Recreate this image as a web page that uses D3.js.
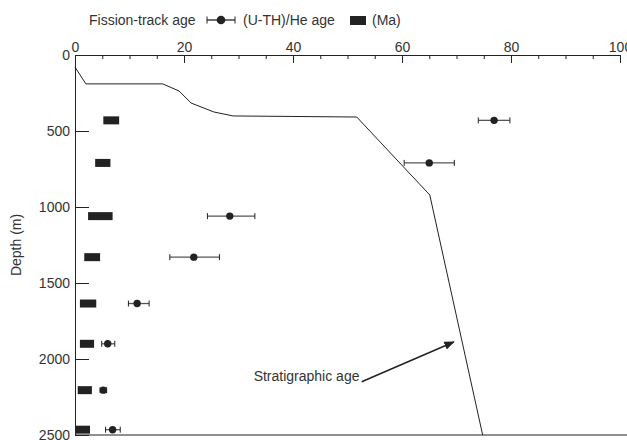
<!DOCTYPE html>
<html>
<head>
<meta charset="utf-8">
<script src="https://cdn.jsdelivr.net/npm/d3@7"></script>
<style>
  body { margin: 0; background: #fff; }
  svg text { font-family: "Liberation Sans", Arial, sans-serif; fill: #333; }
  .axis path, .axis line { stroke: #222; }
  .axis text { font-size: 14px; }
  .lbl { font-size: 14px; }
</style>
</head>
<body>
<svg id="chart" width="627" height="440"></svg>
<script>
// sample depths (m)
const depths = [430, 710, 1060, 1330, 1635, 1900, 2205, 2465];
// fission-track age (Ma) and error bar ends
const ftAge = [76.9, 65.0, 28.4, 21.8, 11.4, 6.0, 5.2, 6.9];
const ftLow = [74.0, 60.4, 24.3, 17.4, 9.8, 4.9, 4.6, 5.6];
const ftHigh = [79.8, 69.6, 33.0, 26.5, 13.6, 7.3, 5.8, 8.3];
// (U-Th)/He age ranges (Ma)
const heMin = [5.2, 3.7, 2.4, 1.7, 0.9, 0.9, 0.5, 0.0];
const heMax = [8.1, 6.5, 6.9, 4.6, 3.9, 3.5, 3.1, 2.75];
// stratigraphic age curve
const stratAge = [0, 2.0, 16.1, 19.1, 21.3, 25.5, 29.0, 51.7, 65.1, 74.8];
const stratDepth = [80, 190, 190, 237, 316, 375, 401, 408, 921, 2500];

const xTicks = [0, 20, 40, 60, 80, 100];
const yTicks = [0, 500, 1000, 1500, 2000, 2500];

let svg = d3.select("#chart");

let x = d3.scaleLinear().domain([0, 100]).range([75, 620]);
let y = d3.scaleLinear().domain([0, 2500]).range([55, 435]);

// top axis, minor then major ticks
svg.append("g")
  .attr("class", "axis")
  .attr("transform", "translate(0,55)")
  .call(d3.axisTop(x)
    .tickValues(d3.range(0, 101, 5).filter(d => d % 20 != 0))
    .tickSizeInner(-4).tickSizeOuter(0).tickFormat(""))
  .select(".domain").remove();

svg.append("g")
  .attr("class", "axis")
  .attr("transform", "translate(0,55)")
  .call(d3.axisTop(x).tickValues(xTicks).tickSizeInner(-8).tickSizeOuter(0).tickPadding(3));

svg.append("g")
  .attr("class", "axis")
  .attr("transform", "translate(75,0)")
  .call(d3.axisLeft(y).tickValues(yTicks).tickFormat(d3.format("d"))
    .tickSizeInner(-14).tickSizeOuter(0).tickPadding(5));

// bottom frame line
svg.append("line")
  .attr("x1", x(0)).attr("x2", 627)
  .attr("y1", y(2500)).attr("y2", y(2500))
  .attr("stroke", "#222").attr("stroke-width", 1.2);

svg.append("text")
  .attr("class", "lbl")
  .attr("transform", "translate(21," + y(1250) + ") rotate(-90)")
  .attr("text-anchor", "middle")
  .text("Depth (m)");

// stratigraphic age line
let line = d3.line().x(d => x(d[0])).y(d => y(d[1]));
svg.append("path")
  .datum(stratAge.map((a, i) => [a, stratDepth[i]]))
  .attr("d", line)
  .attr("fill", "none")
  .attr("stroke", "#222")
  .attr("stroke-width", 1);

// (U-Th)/He bars
svg.append("g").selectAll("rect")
  .data(depths)
  .enter()
  .append("rect")
  .attr("x", (d, i) => x(heMin[i]))
  .attr("width", (d, i) => x(heMax[i]) - x(heMin[i]))
  .attr("y", d => y(d) - 4)
  .attr("height", 8)
  .attr("fill", "#222");

// fission-track ages with error bars
let ft = svg.append("g").selectAll("g")
  .data(depths)
  .enter()
  .append("g");

ft.append("line")
  .attr("x1", (d, i) => x(ftLow[i]))
  .attr("x2", (d, i) => x(ftHigh[i]))
  .attr("y1", d => y(d)).attr("y2", d => y(d))
  .attr("stroke", "#555").attr("stroke-width", 1.3);

ft.append("line")
  .attr("x1", (d, i) => x(ftLow[i])).attr("x2", (d, i) => x(ftLow[i]))
  .attr("y1", d => y(d) - 3).attr("y2", d => y(d) + 3)
  .attr("stroke", "#222").attr("stroke-width", 1);

ft.append("line")
  .attr("x1", (d, i) => x(ftHigh[i])).attr("x2", (d, i) => x(ftHigh[i]))
  .attr("y1", d => y(d) - 3).attr("y2", d => y(d) + 3)
  .attr("stroke", "#222").attr("stroke-width", 1);

ft.append("circle")
  .attr("cx", (d, i) => x(ftAge[i]))
  .attr("cy", d => y(d))
  .attr("r", 3.7)
  .attr("fill", "#222");

// arrow annotation
svg.append("defs").append("marker")
  .attr("id", "arrow")
  .attr("viewBox", "0 0 10 10")
  .attr("refX", 9).attr("refY", 5)
  .attr("markerWidth", 7).attr("markerHeight", 7)
  .attr("orient", "auto")
  .append("path")
  .attr("d", "M0,1 L10,5 L0,9 Z")
  .attr("fill", "#222");

svg.append("line")
  .attr("x1", x(52.6)).attr("y1", y(2150))
  .attr("x2", x(69.5)).attr("y2", y(1888))
  .attr("stroke", "#222").attr("stroke-width", 1.5)
  .attr("marker-end", "url(#arrow)");

svg.append("text")
  .attr("class", "lbl")
  .attr("x", x(52.2)).attr("y", y(2120) + 4)
  .attr("text-anchor", "end")
  .text("Stratigraphic age");

// legend
let legend = svg.append("g");
legend.append("text").attr("class", "lbl").attr("x", 89).attr("y", 25).text("Fission-track age");
legend.append("line").attr("x1", 207).attr("x2", 235).attr("y1", 20).attr("y2", 20)
  .attr("stroke", "#222").attr("stroke-width", 1.3);
legend.append("line").attr("x1", 207).attr("x2", 207).attr("y1", 16.5).attr("y2", 23.5)
  .attr("stroke", "#222");
legend.append("line").attr("x1", 235).attr("x2", 235).attr("y1", 16.5).attr("y2", 23.5)
  .attr("stroke", "#222");
legend.append("circle").attr("cx", 221).attr("cy", 20).attr("r", 4.3).attr("fill", "#222");
legend.append("text").attr("class", "lbl").attr("x", 243).attr("y", 25).text("(U-TH)/He age");
legend.append("rect").attr("x", 350).attr("y", 16).attr("width", 16).attr("height", 9).attr("fill", "#222");
legend.append("text").attr("class", "lbl").attr("x", 372).attr("y", 25).text("(Ma)");
</script>
</body>
</html>
